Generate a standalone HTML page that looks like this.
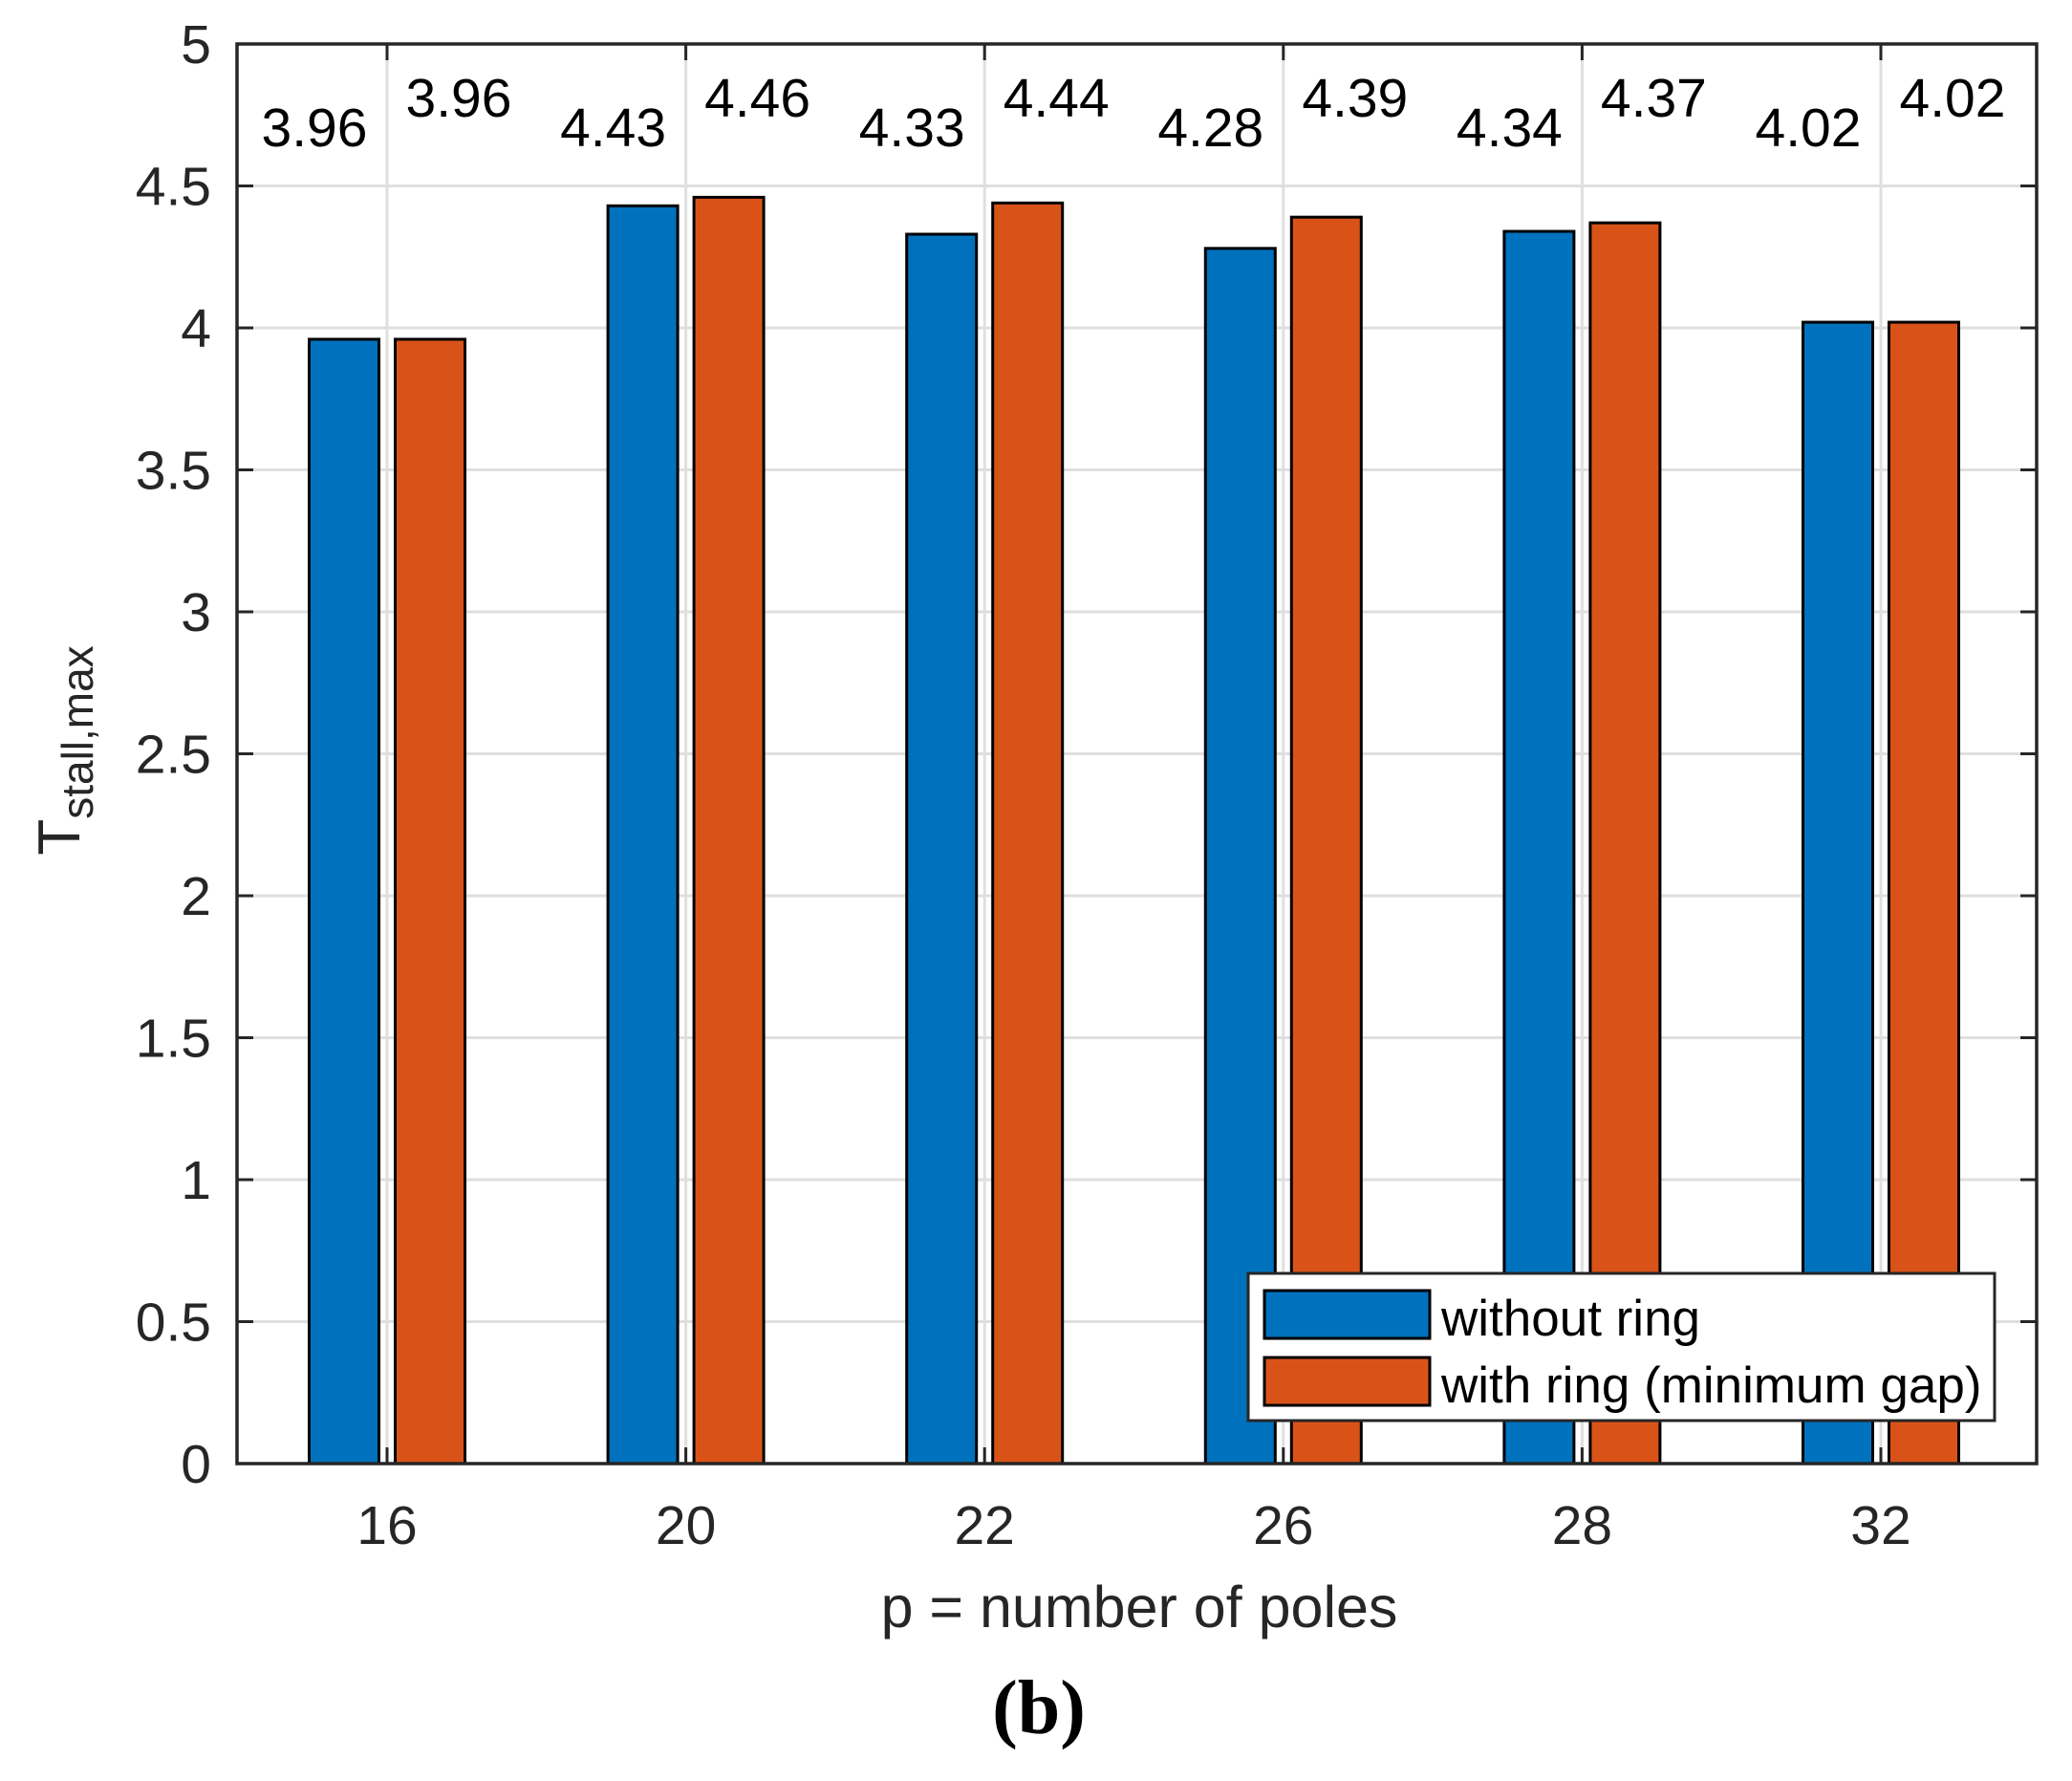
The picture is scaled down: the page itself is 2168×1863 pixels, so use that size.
<!DOCTYPE html>
<html><head><meta charset="utf-8"><style>
html,body{margin:0;padding:0;background:#fff}
svg{display:block}
text{font-family:"Liberation Sans",sans-serif;fill:#262626}
</style></head><body>
<svg id="chart" width="2168" height="1863" viewBox="0 0 2168 1863" xmlns="http://www.w3.org/2000/svg"></svg>
<script>
const categories = ["16","20","22","26","28","32"];
const seriesWithout = [3.96, 4.43, 4.33, 4.28, 4.34, 4.02];
const seriesWith = [3.96, 4.46, 4.44, 4.39, 4.37, 4.02];
const labelsWithout = ["3.96","4.43","4.33","4.28","4.34","4.02"];
const labelsWith = ["3.96","4.46","4.44","4.39","4.37","4.02"];
const yTicks = [0,0.5,1,1.5,2,2.5,3,3.5,4,4.5,5];
const yTickLabels = ["0","0.5","1","1.5","2","2.5","3","3.5","4","4.5","5"];

const NS="http://www.w3.org/2000/svg";
const svg=document.getElementById('chart');
const L=248,R=2131,T=46,B=1531;
const yMin=0,yMax=5;
function yScale(v){return B-(v-yMin)/(yMax-yMin)*(B-T);}
const step=312.6, x0=405;
function xScale(i){return x0+i*step;}
function mk(tag,attrs,parent){const e=document.createElementNS(NS,tag);for(const k in attrs)e.setAttribute(k,attrs[k]);(parent||svg).appendChild(e);return e;}

const grid=mk('g',{});


yTicks.forEach(v=>{mk('line',{x1:L,x2:R,y1:yScale(v),y2:yScale(v),stroke:'#dfdfdf','stroke-width':3},grid);});
categories.forEach((c,i)=>{mk('line',{x1:xScale(i),x2:xScale(i),y1:T,y2:B,stroke:'#dfdfdf','stroke-width':3},grid);});

const bw=73, off=45;
categories.forEach((c,i)=>{
  const cx=xScale(i);
  const b1=mk('rect',{x:cx-off-bw/2,y:yScale(seriesWithout[i]),width:bw,height:B-yScale(seriesWithout[i]),fill:'#0072bd',stroke:'#000','stroke-width':3});
  
  
  const b2=mk('rect',{x:cx+off-bw/2,y:yScale(seriesWith[i]),width:bw,height:B-yScale(seriesWith[i]),fill:'#d95319',stroke:'#000','stroke-width':3});
  
  
  const t1=mk('text',{x:cx-76,y:153,'font-size':57,'text-anchor':'middle',style:'fill:#000'});
  t1.textContent=labelsWithout[i];
  
  
  const t2=mk('text',{x:cx+75,y:122,'font-size':57,'text-anchor':'middle',style:'fill:#000'});
  t2.textContent=labelsWith[i];
  
  
  const xt=mk('text',{x:cx,y:1615,'font-size':57,'text-anchor':'middle'});
  xt.textContent=c;
  
  
  mk('line',{x1:cx,x2:cx,y1:B,y2:B-17,stroke:'#262626','stroke-width':3});
  mk('line',{x1:cx,x2:cx,y1:T,y2:T+17,stroke:'#262626','stroke-width':3});
});

yTicks.forEach((v,i)=>{
  const yt=mk('text',{x:221,y:yScale(v)+20,'font-size':57,'text-anchor':'end'});
  yt.textContent=yTickLabels[i];
  
  
  mk('line',{x1:L,x2:L+17,y1:yScale(v),y2:yScale(v),stroke:'#262626','stroke-width':3});
  mk('line',{x1:R,x2:R-17,y1:yScale(v),y2:yScale(v),stroke:'#262626','stroke-width':3});
});

const frame=mk('rect',{x:L,y:T,width:R-L,height:B-T,fill:'none',stroke:'#262626','stroke-width':3.5});



const xl=mk('text',{x:1192,y:1702,'font-size':61,'text-anchor':'middle'});
xl.textContent='p = number of poles';



const yl=mk('text',{x:0,y:0,'font-size':62,'text-anchor':'middle',transform:'translate(83,785) rotate(-90)'});
yl.innerHTML='T<tspan font-size="46" dy="14">stall,max</tspan>';



const cap=mk('text',{x:1087,y:1813,'font-size':80,'text-anchor':'middle','font-weight':'bold',style:'font-family:\"Liberation Serif\",serif;fill:#000'});
cap.textContent='(b)';



const lg=mk('g',{});


mk('rect',{x:1306,y:1332,width:781,height:154,fill:'#fff',stroke:'#262626','stroke-width':3},lg);
const s1=mk('rect',{x:1323,y:1350,width:173,height:50,fill:'#0072bd',stroke:'#000','stroke-width':3},lg);


const s2=mk('rect',{x:1323,y:1420,width:173,height:50,fill:'#d95319',stroke:'#000','stroke-width':3},lg);


const l1=mk('text',{x:1508,y:1397,'font-size':53,style:'fill:#000'},lg);
l1.textContent='without ring';


const l2=mk('text',{x:1508,y:1467,'font-size':53,style:'fill:#000'},lg);
l2.textContent='with ring (minimum gap)';


</script>
</body></html>
